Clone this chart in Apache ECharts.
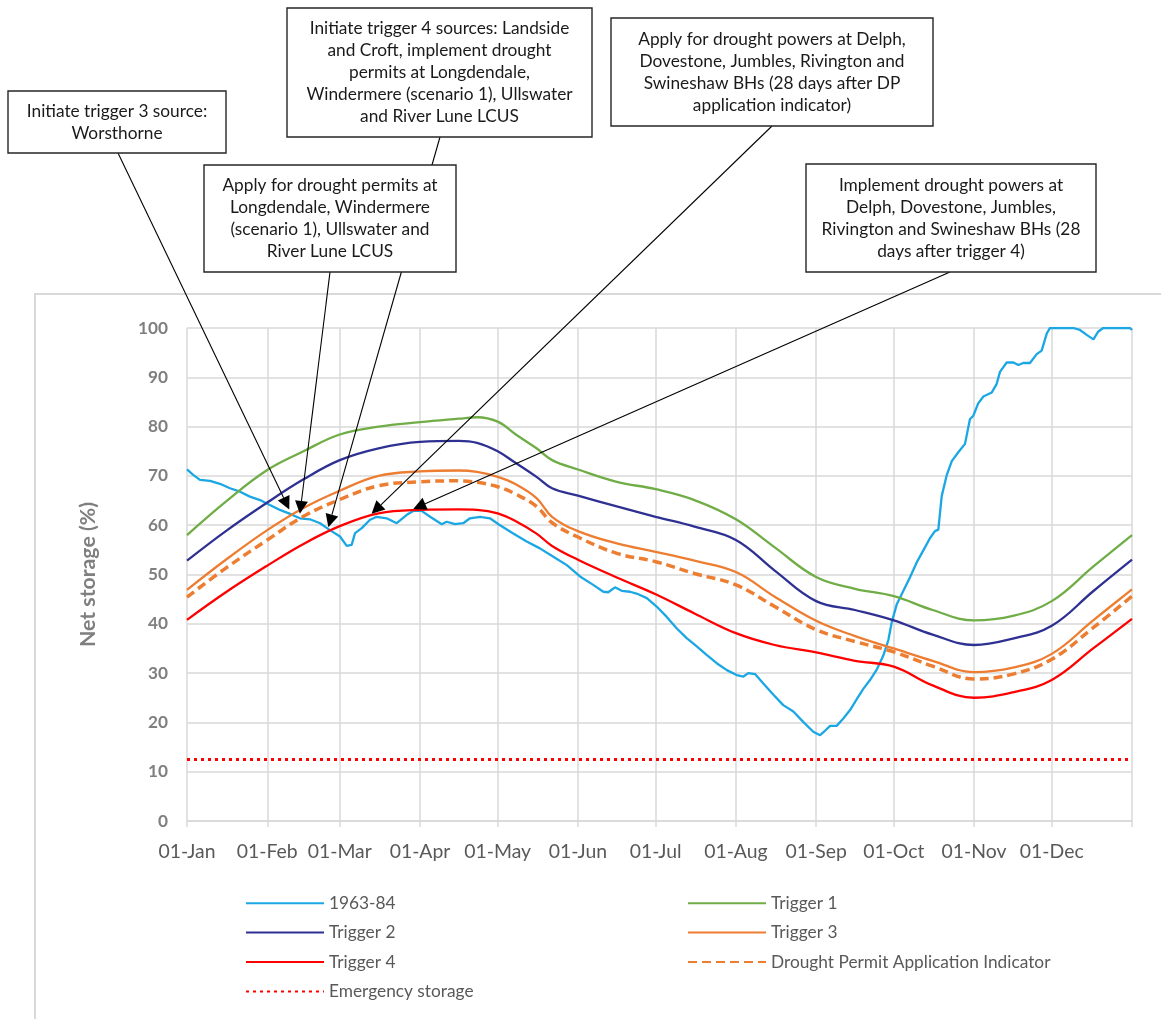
<!DOCTYPE html>
<html>
<head>
<meta charset="utf-8">
<script src="https://cdn.jsdelivr.net/npm/echarts@6.0.0/dist/echarts.min.js"></script>
<style>
html,body{margin:0;padding:0;background:#fff;}
#chart{width:1161px;height:1019px;}
</style>
</head>
<body>
<div id="chart"></div>
<script>
// ---------- DATA ----------
const monthLabels = ['01-Jan','01-Feb','01-Mar','01-Apr','01-May','01-Jun','01-Jul','01-Aug','01-Sep','01-Oct','01-Nov','01-Dec'];
const monthStartDays = [0,31,59,90,120,151,181,212,243,273,304,334];
const yearEndDay = 365;

const triggerDays = [0,15,31,45,59,74,90,105,112,120,127,135,141,151,166,181,196,212,227,243,258,273,288,304,319,334,350,365];
const trigger1 = [58.0,64.8,71.2,75.0,78.4,80.0,80.9,81.6,81.9,81.0,78.4,75.6,73.2,71.3,68.8,67.3,65.1,61.2,55.5,49.5,47.1,45.6,42.8,40.7,41.6,44.6,51.6,58.0];
const trigger2 = [52.8,58.8,64.6,69.3,73.2,75.6,76.9,77.1,76.7,75.0,72.6,69.8,67.5,66.0,63.8,61.7,59.7,57.0,50.8,44.6,42.8,40.7,37.8,35.7,37.0,39.6,46.6,53.0];
const trigger3 = [46.9,53.0,59.0,63.5,67.0,70.0,70.9,71.1,70.8,69.8,68.3,65.5,61.7,58.8,56.3,54.6,52.8,50.5,45.5,40.6,37.5,35.0,32.5,30.2,31.1,33.9,40.7,47.0];
const droughtPermitIndicator = [45.4,51.3,57.0,61.8,65.2,68.0,68.8,69.0,68.7,67.8,66.3,63.8,60.5,57.6,54.3,52.6,50.2,47.9,43.5,38.8,36.4,34.3,31.4,28.8,29.8,32.8,39.2,45.6];
const trigger4 = [40.8,46.4,51.8,56.2,59.8,62.4,63.1,63.2,63.1,62.4,60.8,58.3,55.8,53.0,49.4,46.0,42.1,38.1,35.7,34.2,32.5,31.3,27.5,25.0,26.1,28.6,35.0,41.0];

const histDays = [0,2.4,5,8.9,12.7,16.6,20.5,24.3,28.2,32,35.9,39.8,43.6,47.5,51.4,55.2,59.1,61.7,63.6,64.9,67.5,70.7,73.3,77.1,81,84.9,87.4,90.6,93.9,98.4,100.3,103.5,106.7,109.3,113.2,117,120.9,126,131.2,136.3,141.5,146.7,151.8,156.9,160.8,162.7,165.3,167.9,171.1,174.3,177.6,181.4,185.3,189.1,193,196.9,200.7,204.6,208.5,212.3,214.9,216.8,219.4,222.6,226.5,230.3,234.2,238,241.9,244.5,246.4,248.4,250.9,253.5,256.1,258.7,261.2,263.8,266.4,268.9,270.9,272.2,274.1,276.7,279.3,281.8,284.4,287,288.9,290.2,291.5,293.4,295.4,297.9,300.5,302.4,303.7,305.6,307.6,310.8,312.7,314,316.6,319.2,321.1,323,325.6,328.2,330.1,332.1,333.3,342.3,344.9,347.5,350.1,352,353.9,364.2,365];
const histValues = [71.3,70.2,69.2,69.0,68.4,67.5,66.8,65.8,65.1,64.1,63.1,62.3,61.4,61.2,60.4,59.0,57.7,55.8,56.0,58.4,59.4,61.1,61.7,61.4,60.4,62.1,62.9,62.9,61.7,60.2,60.7,60.2,60.4,61.4,61.7,61.4,60.0,58.3,56.7,55.3,53.6,51.9,49.6,47.9,46.5,46.4,47.4,46.7,46.5,46.0,45.2,43.5,41.4,39.1,37.1,35.4,33.7,32.0,30.6,29.6,29.3,30.0,29.8,27.9,25.6,23.5,22.2,20.1,18.1,17.4,18.3,19.3,19.3,20.8,22.5,24.7,26.8,28.6,30.7,33.5,36.7,40.3,43.9,46.7,49.5,52.4,54.9,57.4,58.8,59.1,65.9,70.1,73.0,74.8,76.5,81.5,82.2,84.7,86.1,86.9,88.6,91.1,93.0,93.0,92.5,92.9,92.9,94.7,95.4,98.9,100,100,99.6,98.6,97.7,99.3,100,100,99.6];

const emergencyDays = [0,365];
const emergencyValues = [12.5,12.5];

const seriesNames = ['1963-84','Trigger 1','Trigger 2','Trigger 3','Trigger 4','Drought Permit Application Indicator','Emergency storage'];

const annotationTexts = [
  'Initiate trigger 3 source:\nWorsthorne',
  'Initiate trigger 4 sources: Landside\nand Croft, implement drought\npermits at Longdendale,\nWindermere (scenario 1), Ullswater\nand River Lune LCUS',
  'Apply for drought permits at\nLongdendale, Windermere\n(scenario 1), Ullswater and\nRiver Lune LCUS',
  'Apply for drought powers at Delph,\nDovestone, Jumbles, Rivington and\nSwineshaw BHs (28 days after DP\napplication indicator)',
  'Implement drought powers at\nDelph, Dovestone, Jumbles,\nRivington and Swineshaw BHs (28\ndays after trigger 4)'
];
// arrow targets in data space [day of year, net storage %]
const annotationTargets = [[39.5,63.2],[54.6,59.6],[43.6,62.3],[71.3,62.3],[87.4,63.3]];

// ---------- LAYOUT / STYLE ----------
const FONT = 'Lato';
function fitSize(text, weight, target) {
  const c = document.createElement('canvas').getContext('2d');
  c.font = weight + ' 100px ' + FONT;
  return Math.round(100 * target / c.measureText(text).width * 10) / 10;
}
const annotSize = fitSize('Apply for drought permits at', 'normal', 215);
const xLabSize = fitSize('01-Jan', 'normal', 57);
const legendSize = fitSize('Emergency storage', 'normal', 145);
const yLabSize = fitSize('100', 'bold', 30);
const yNameSize = fitSize('Net storage (%)', 'bold', 145);

const boxes = [
  {x:8, y:91, w:218, h:62, anchor:[118,153]},
  {x:287, y:8, w:305, h:129, anchor:[440,137]},
  {x:204, y:165, w:252, h:107, anchor:[330,272]},
  {x:611, y:18, w:322, h:108, anchor:[772,126]},
  {x:806, y:164, w:290, h:108, anchor:[950,272]}
];

const zip = (xs, ys) => xs.map((x, i) => [x, ys[i]]);
const gridColor = '#d9d9d9';

const lineSeries = (name, xs, ys, color, extra) => Object.assign({
  name, type:'line', data: zip(xs, ys), symbol:'none', showSymbol:false,
  lineStyle:{color, width:2.3}, itemStyle:{color}, emphasis:{disabled:true}
}, extra || {});

const legendBase = {
  top:894.7, orient:'vertical', padding:0, itemWidth:78, itemHeight:14, itemGap:12.4, selectedMode:false,
  itemStyle:{opacity:0},
  textStyle:{color:'#595959', fontFamily:FONT, fontSize:legendSize}
};

const chart = echarts.init(document.getElementById('chart'), null, {renderer:'canvas'});
const option = {
  animation:false,
  backgroundColor:'#ffffff',
  grid:{left:187, right:29, top:328, bottom:198},
  xAxis:{
    type:'value', min:0, max:yearEndDay,
    axisLine:{show:true, lineStyle:{color:gridColor, width:1.5}},
    axisTick:{show:true, length:6, lineStyle:{color:gridColor, width:1.5}, customValues: monthStartDays.concat([yearEndDay])},
    axisLabel:{customValues: monthStartDays, margin:21, color:'#595959', fontFamily:FONT, fontSize:xLabSize,
      formatter: v => monthLabels[monthStartDays.indexOf(v)] || ''},
    splitLine:{show:true, lineStyle:{color:gridColor, width:1.5}}
  },
  yAxis:{
    type:'value', min:0, max:100, interval:10,
    name:'Net storage (%)', nameLocation:'middle', nameGap:88, nameRotate:90,
    nameTextStyle:{color:'#7f7f7f', fontWeight:'bold', fontFamily:FONT, fontSize:yNameSize},
    axisLine:{show:false}, axisTick:{show:false},
    axisLabel:{color:'#7f7f7f', fontWeight:'bold', fontFamily:FONT, fontSize:yLabSize, margin:19},
    splitLine:{show:true, lineStyle:{color:gridColor, width:1.5}}
  },
  legend:[
    Object.assign({}, legendBase, {left:245, data:[seriesNames[0], seriesNames[2], seriesNames[4], seriesNames[6]]}),
    Object.assign({}, legendBase, {left:687, data:[seriesNames[1], seriesNames[3], seriesNames[5]]})
  ],
  series:[
    lineSeries(seriesNames[0], histDays, histValues, '#1aa7e4'),
    lineSeries(seriesNames[1], triggerDays, trigger1, '#70ad47', {smooth:0.4}),
    lineSeries(seriesNames[2], triggerDays, trigger2, '#2e3192', {smooth:0.4}),
    lineSeries(seriesNames[3], triggerDays, trigger3, '#ed7d31', {smooth:0.4}),
    lineSeries(seriesNames[4], triggerDays, trigger4, '#ff0000', {smooth:0.4}),
    lineSeries(seriesNames[5], triggerDays, droughtPermitIndicator, '#ed7d31', {smooth:0.4, lineStyle:{color:'#ed7d31', width:3.5, type:[9,5]}}),
    lineSeries(seriesNames[6], emergencyDays, emergencyValues, '#ff0000', {lineStyle:{color:'#ff0000', width:3, type:[3,4]}})
  ]
};
chart.setOption(option);

// ---------- ANNOTATIONS ----------
const graphics = [];
graphics.push({type:'rect', z:0, silent:true, shape:{x:35, y:294, width:1200, height:800}, style:{fill:null, stroke:gridColor, lineWidth:2}});
boxes.forEach((b, i) => {
  const tip = chart.convertToPixel({gridIndex:0}, annotationTargets[i]);
  const [sx, sy] = b.anchor;
  const dx = tip[0] - sx, dy = tip[1] - sy;
  const len = Math.hypot(dx, dy), ux = dx / len, uy = dy / len;
  const headL = 13, headW = 6.5;
  const bx = tip[0] - ux * headL, by = tip[1] - uy * headL;
  graphics.push({type:'line', z:50, silent:true, shape:{x1:sx, y1:sy, x2:bx, y2:by}, style:{stroke:'#000', lineWidth:1.1}});
  graphics.push({type:'polygon', z:50, silent:true, shape:{points:[[tip[0], tip[1]], [bx - uy * headW, by + ux * headW], [bx + uy * headW, by - ux * headW]]}, style:{fill:'#000'}});
});
boxes.forEach((b, i) => {
  graphics.push({type:'rect', z:60, silent:true, shape:{x:b.x, y:b.y, width:b.w, height:b.h}, style:{fill:'#fff', stroke:'#262626', lineWidth:1.4}});
  graphics.push({type:'text', z:61, silent:true, style:{text:annotationTexts[i], x:b.x + b.w / 2, y:b.y + b.h / 2, align:'center', verticalAlign:'middle', lineHeight:22, fontFamily:FONT, fontSize:annotSize, fill:'#1a1a1a'}});
});
chart.setOption({graphic:{elements:graphics}});
</script>
</body>
</html>
